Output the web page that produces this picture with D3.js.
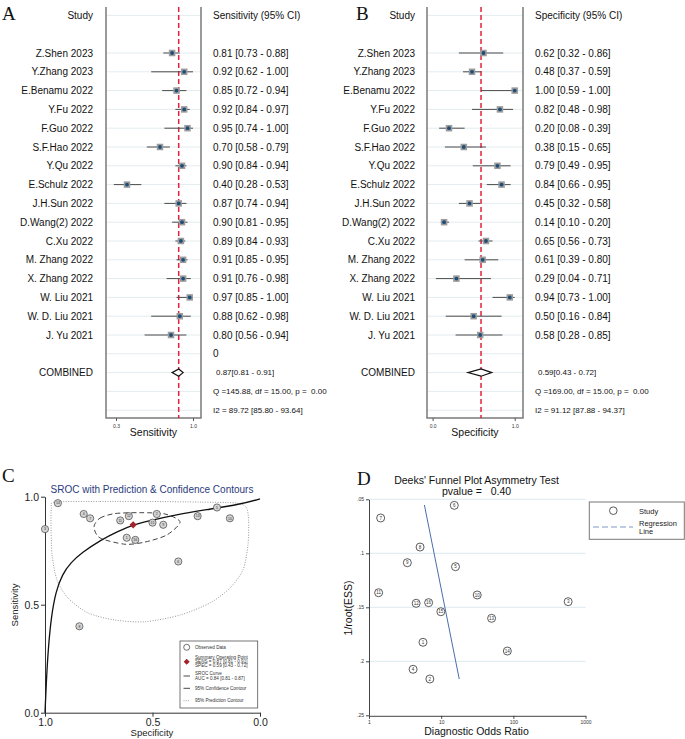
<!DOCTYPE html>
<html><head><meta charset="utf-8">
<script src="https://cdn.jsdelivr.net/npm/d3@7"></script>
<style>body{margin:0;background:#fff;} svg{display:block;font-family:"Liberation Sans",Arial,sans-serif;}</style>
</head><body>
<script>
// ---------------- DATA ----------------
const studies = ["Z.Shen 2023","Y.Zhang 2023","E.Benamu 2022","Y.Fu 2022","F.Guo 2022","S.F.Hao 2022","Y.Qu 2022","E.Schulz 2022","J.H.Sun 2022","D.Wang(2) 2022","C.Xu 2022","M. Zhang 2022","X. Zhang 2022","W. Liu 2021","W. D. Liu 2021","J. Yu 2021"];
const sens   = [0.81,0.92,0.85,0.92,0.95,0.70,0.90,0.40,0.87,0.90,0.89,0.91,0.91,0.97,0.88,0.80];
const sensLo = [0.73,0.62,0.72,0.84,0.74,0.58,0.84,0.28,0.74,0.81,0.84,0.85,0.76,0.85,0.62,0.56];
const sensHi = [0.88,1.00,0.94,0.97,1.00,0.79,0.94,0.53,0.94,0.95,0.93,0.95,0.98,1.00,0.98,0.94];
const spec   = [0.62,0.48,1.00,0.82,0.20,0.38,0.79,0.84,0.45,0.14,0.65,0.61,0.29,0.94,0.50,0.58];
const specLo = [0.32,0.37,0.59,0.48,0.08,0.15,0.49,0.66,0.32,0.10,0.56,0.39,0.04,0.73,0.16,0.28];
const specHi = [0.86,0.59,1.00,0.98,0.39,0.65,0.95,0.95,0.58,0.20,0.73,0.80,0.71,1.00,0.84,0.85];
const sensPooled = [0.87,0.81,0.91];
const specPooled = [0.59,0.43,0.72];
const sensStats = ["0.87[0.81 - 0.91]","Q =145.88, df = 15.00, p =\u00A0\u00A00.00","I2 = 89.72 [85.80 - 93.64]"];
const specStats = ["0.59[0.43 - 0.72]","Q =169.00, df = 15.00, p =\u00A0\u00A00.00","I2 = 91.12 [87.88 - 94.37]"];
const sensTicks = [0.3,1.0];
const specTicks = [0.0,1.0];

// SROC curve (specificity, sensitivity)
const srocSpec = [1.0,0.995,0.985,0.97,0.95,0.92,0.88,0.83,0.74,0.66,0.59,0.51,0.40,0.25,0.09,0.0];
const srocSens = [0.0,0.12,0.30,0.45,0.56,0.64,0.695,0.74,0.80,0.84,0.87,0.89,0.915,0.94,0.965,0.99];
// 95% confidence contour
const confSpec = [0.772,0.744,0.674,0.558,0.442,0.372,0.433,0.535,0.628,0.744];
const confSens = [0.860,0.901,0.922,0.926,0.920,0.883,0.823,0.790,0.780,0.809];
// 95% prediction contour
const predSpec = [0.953,0.744,0.512,0.279,0.116,0.065,0.053,0.056,0.079,0.140,0.233,0.372,0.535,0.674,0.800,0.893,0.944,0.967,0.972,0.970];
const predSens = [0.975,0.978,0.978,0.975,0.971,0.952,0.892,0.777,0.661,0.577,0.508,0.452,0.421,0.429,0.462,0.531,0.614,0.730,0.869,0.948];
const srocTicks = [0.0,0.5,1.0];

// Deeks funnel plot (study number, DOR, 1/root(ESS))
const deeksStudy = [1,2,3,4,5,6,7,8,9,10,11,12,13,14,15,16];
const deeksDOR   = [5.6,6.97,575,4.08,15.8,15.2,1.45,5.1,3.4,31.6,1.36,4.5,50,82.6,9.9,6.7];
const deeksESS   = [0.1824,0.2164,0.1448,0.2074,0.1124,0.0556,0.0673,0.0942,0.1087,0.1386,0.1365,0.1463,0.1602,0.1905,0.1541,0.1457];
const regDOR = [5.86,17.8];
const regESS = [0.0553,0.2164];
const deeksYTicks = [0.05,0.10,0.15,0.20,0.25];
const deeksYLabels = [".05",".1",".15",".2",".25"];
const deeksXTicks = [1,10,100,1000];

// ---------------- DRAW ----------------
const svg = d3.select("body").append("svg").attr("width",685).attr("height",739);
svg.append("rect").attr("width",685).attr("height",739).attr("fill","#fff");
const f2 = d3.format(".2f");

function panelLetter(t,x,y){
  svg.append("text").attr("x",x).attr("y",y).text(t)
    .attr("font-family","'Liberation Serif','Times New Roman',serif").attr("font-size",19).attr("fill","#111");
}

function forest(cfg){
  const g = svg.append("g");
  const x = d3.scaleLinear().domain(cfg.domain).range(cfg.range);
  const rowY = i => 53 + i*18.8;
  const top = 7, bottom = 418;
  const gridRows = [-2].concat(d3.range(0,20));
  g.selectAll("line.grid").data(gridRows).join("line")
    .attr("x1",cfg.boxL).attr("x2",cfg.boxR).attr("y1",rowY).attr("y2",rowY)
    .attr("stroke","#e3ecef").attr("stroke-width",1);
  g.append("path").attr("d",`M${cfg.boxL},${top}V${bottom}H${cfg.boxR}V${top}`)
    .attr("fill","none").attr("stroke","#7a7a7a").attr("stroke-width",1.5);
  const ax = g.append("g").attr("transform",`translate(0,${bottom})`)
    .call(d3.axisBottom(x).tickValues(cfg.ticks).tickFormat(d3.format(".1f")).tickSize(3).tickPadding(3));
  ax.select(".domain").remove();
  ax.selectAll("line").attr("stroke","#555");
  ax.selectAll("text").attr("font-size",5).attr("fill","#333").attr("font-family","'Liberation Sans',Arial");
  g.append("text").attr("x",(cfg.boxL+cfg.boxR)/2).attr("y",436).attr("text-anchor","middle")
    .attr("font-size",10.5).attr("fill","#111").text(cfg.axisTitle);
  g.append("line").attr("x1",x(cfg.pooled[0])).attr("x2",x(cfg.pooled[0])).attr("y1",top).attr("y2",bottom)
    .attr("stroke","#e3213c").attr("stroke-width",1.5).attr("stroke-dasharray","5,3");
  g.append("text").attr("x",cfg.labelR).attr("y",rowY(-2)).attr("dy","0.35em").attr("text-anchor","end")
    .attr("font-size",10).attr("fill","#111").text("Study");
  g.append("text").attr("x",cfg.valX).attr("y",rowY(-2)).attr("dy","0.35em")
    .attr("font-size",10).attr("fill","#111").text(cfg.header);
  const idx = d3.range(studies.length);
  g.selectAll("text.lab").data(idx).join("text").attr("x",cfg.labelR).attr("y",i=>rowY(i)).attr("dy","0.35em")
    .attr("text-anchor","end").attr("font-size",10).attr("fill","#111").text(i=>studies[i]);
  g.selectAll("text.val").data(idx).join("text").attr("x",cfg.valX).attr("y",i=>rowY(i)).attr("dy","0.35em")
    .attr("font-size",10).attr("fill","#111").text(i=>`${f2(cfg.v[i])} [${f2(cfg.lo[i])} - ${f2(cfg.hi[i])}]`);
  g.selectAll("line.ci").data(idx).join("line")
    .attr("x1",i=>x(cfg.lo[i])).attr("x2",i=>x(cfg.hi[i])).attr("y1",i=>rowY(i)).attr("y2",i=>rowY(i))
    .attr("stroke","#4a4a4a").attr("stroke-width",1);
  const s = 6.5;
  g.selectAll("rect.sq").data(idx).join("rect")
    .attr("x",i=>x(cfg.v[i])-s/2).attr("y",i=>rowY(i)-s/2).attr("width",s).attr("height",s)
    .attr("fill","#9c9c9c");
  g.selectAll("circle.pt").data(idx).join("circle")
    .attr("cx",i=>x(cfg.v[i])).attr("cy",i=>rowY(i)).attr("r",1.9).attr("fill","#1e4d78");
  if(cfg.zero){
    g.append("text").attr("x",cfg.valX).attr("y",rowY(16)).attr("dy","0.35em").attr("font-size",10).attr("fill","#111").text("0");
  }
  const cy = rowY(17), h = 3.6;
  g.append("text").attr("x",cfg.labelR).attr("y",cy).attr("dy","0.35em").attr("text-anchor","end")
    .attr("font-size",10).attr("fill","#111").text("COMBINED");
  g.append("path").attr("d",`M${x(cfg.pooled[1])},${cy}L${x(cfg.pooled[0])},${cy-h}L${x(cfg.pooled[2])},${cy}L${x(cfg.pooled[0])},${cy+h}Z`)
    .attr("fill","#fff").attr("stroke","#111").attr("stroke-width",1.2);
  g.append("text").attr("x",cfg.valX+3).attr("y",cy).attr("dy","0.35em").attr("font-size",8).attr("fill","#111").text(cfg.stats[0]);
  g.append("text").attr("x",cfg.valX).attr("y",rowY(18)).attr("dy","0.35em").attr("font-size",8).attr("fill","#111").text(cfg.stats[1]);
  g.append("text").attr("x",cfg.valX).attr("y",rowY(19)).attr("dy","0.35em").attr("font-size",8).attr("fill","#111").text(cfg.stats[2]);
}

forest({domain:[0.3,1.0],range:[116,193],boxL:106,boxR:201,labelR:93,valX:213,ticks:sensTicks,
  axisTitle:"Sensitivity",header:"Sensitivity (95% CI)",v:sens,lo:sensLo,hi:sensHi,pooled:sensPooled,stats:sensStats,zero:true});
forest({domain:[0.0,1.0],range:[432.6,514.7],boxL:427,boxR:523,labelR:415,valX:535,ticks:specTicks,
  axisTitle:"Specificity",header:"Specificity (95% CI)",v:spec,lo:specLo,hi:specHi,pooled:specPooled,stats:specStats,zero:false});
panelLetter("A",2,20);
panelLetter("B",356,20);

// ---------------- Panel C: SROC ----------------
(function(){
  const g = svg.append("g");
  const x = d3.scaleLinear().domain([1,0]).range([45,260]);
  const y = d3.scaleLinear().domain([0,1]).range([712.7,496.7]);
  g.append("text").attr("x",152).attr("y",489).attr("dy","0.35em").attr("text-anchor","middle")
    .attr("font-size",10).attr("fill","#2a3b7c").text("SROC with Prediction & Confidence Contours");
  const ya = g.append("g").attr("transform","translate(45,0)")
    .call(d3.axisLeft(y).tickValues(srocTicks).tickFormat(d3.format(".1f")).tickSize(4).tickPadding(2).tickSizeOuter(0));
  const xa = g.append("g").attr("transform","translate(0,712.7)")
    .call(d3.axisBottom(x).tickValues(srocTicks).tickFormat(d3.format(".1f")).tickSize(4).tickPadding(2).tickSizeOuter(0));
  [ya,xa].forEach(a=>{a.selectAll("path,line").attr("stroke","#333");
    a.selectAll("text").attr("font-size",10.5).attr("fill","#222").attr("font-family","'Liberation Sans',Arial");});
  g.append("text").attr("x",152).attr("y",733).attr("dy","0.35em").attr("text-anchor","middle")
    .attr("font-size",9.5).attr("fill","#222").text("Specificity");
  g.append("text").attr("transform","translate(15,605) rotate(-90)").attr("text-anchor","middle").attr("dy","0.35em")
    .attr("font-size",9.5).attr("fill","#222").text("Sensitivity");
  const cl = d3.line().curve(d3.curveCardinalClosed.tension(0.2));
  g.append("path").attr("d",cl(predSpec.map((s,i)=>[x(s),y(predSens[i])])))
    .attr("fill","none").attr("stroke","#9a9a9a").attr("stroke-width",1).attr("stroke-dasharray","1,1.5");
  g.append("path").attr("d",cl(confSpec.map((s,i)=>[x(s),y(confSens[i])])))
    .attr("fill","none").attr("stroke","#444").attr("stroke-width",1).attr("stroke-dasharray","5,3");
  g.append("path").attr("d",d3.line().curve(d3.curveBasis)(srocSpec.map((s,i)=>[x(s),y(srocSens[i])])))
    .attr("fill","none").attr("stroke","#111").attr("stroke-width",1.3);
  const idx = d3.range(spec.length);
  g.selectAll("circle.obs").data(idx).join("circle")
    .attr("cx",i=>x(spec[i])).attr("cy",i=>y(sens[i])).attr("r",3.6)
    .attr("fill","#d4d4d4").attr("stroke","#444").attr("stroke-width",0.7);
  g.selectAll("text.num").data(idx).join("text")
    .attr("x",i=>x(spec[i])).attr("y",i=>y(sens[i])).attr("dy","0.35em").attr("text-anchor","middle")
    .attr("font-size",3.5).attr("fill","#333").text(i=>i+1);
  const sx = x(specPooled[0]), sy = y(sensPooled[0]), d = 3.6;
  g.append("path").attr("d",`M${sx},${sy-d}L${sx+d},${sy}L${sx},${sy+d}L${sx-d},${sy}Z`).attr("fill","#a3242c");
  const lg = g.append("g");
  lg.append("rect").attr("x",180).attr("y",641).attr("width",77.7).attr("height",67)
    .attr("fill","#fff").attr("stroke","#555").attr("stroke-width",0.8);
  lg.append("circle").attr("cx",186.7).attr("cy",647.3).attr("r",3).attr("fill","#fff").attr("stroke","#333").attr("stroke-width",0.7);
  lg.append("path").attr("d","M186.7,658.7L189.7,661.7L186.7,664.7L183.7,661.7Z").attr("fill","#a3242c");
  lg.append("line").attr("x1",183.5).attr("x2",190).attr("y1",676).attr("y2",676).attr("stroke","#333").attr("stroke-width",0.9);
  lg.append("line").attr("x1",183.5).attr("x2",190).attr("y1",688.3).attr("y2",688.3).attr("stroke","#333").attr("stroke-width",0.9);
  lg.append("line").attr("x1",183.5).attr("x2",190).attr("y1",700.7).attr("y2",700.7).attr("stroke","#999").attr("stroke-width",0.9).attr("stroke-dasharray","1,1.2");
  const items = [["Observed Data",647.3],["Summary Operating Point",656.9],["SENS = 0.87 [0.81 - 0.91]",661.3],["SPEC = 0.59 [0.43 - 0.72]",665.7],
    ["SROC Curve",673.5],["AUC = 0.84 [0.81 - 0.87]",678.2],["95% Confidence Contour",688.3],["95% Prediction Contour",700.7]];
  lg.selectAll("text").data(items).join("text").attr("x",195).attr("y",d=>d[1]).attr("dy","0.35em")
    .attr("font-size",4.6).attr("fill","#333").text(d=>d[0]);
})();
panelLetter("C",2,482);

// ---------------- Panel D: Deeks ----------------
(function(){
  const g = svg.append("g");
  const x = d3.scaleLog().domain([1,1000]).range([369,585.5]);
  const y = d3.scaleLinear().domain([0.05,0.25]).range([499.3,715.3]);
  g.append("text").attr("x",476.5).attr("y",480.7).attr("dy","0.35em").attr("text-anchor","middle")
    .attr("font-size",10.5).attr("fill","#111").text("Deeks' Funnel Plot Asymmetry Test");
  g.append("text").attr("x",476.5).attr("y",491.5).attr("dy","0.35em").attr("text-anchor","middle")
    .attr("font-size",10.5).attr("fill","#111").text("pvalue =\u00A0\u00A0 0.40");
  g.selectAll("line.grid").data(deeksYTicks.slice(0,4)).join("line")
    .attr("x1",369).attr("x2",585.5).attr("y1",d=>y(d)).attr("y2",d=>y(d)).attr("stroke","#dde9ef").attr("stroke-width",1);
  const ya = g.append("g").attr("transform","translate(369,0)")
    .call(d3.axisLeft(y).tickValues(deeksYTicks).tickFormat((d,i)=>deeksYLabels[i]).tickSize(3).tickPadding(2).tickSizeOuter(0));
  const xa = g.append("g").attr("transform","translate(0,715.8)")
    .call(d3.axisBottom(x).tickValues(deeksXTicks).tickFormat(d3.format("d")).tickSize(3).tickPadding(2).tickSizeOuter(0));
  [ya,xa].forEach(a=>{a.selectAll("path,line").attr("stroke","#444");
    a.selectAll("text").attr("font-size",5).attr("fill","#333").attr("font-family","'Liberation Sans',Arial");});
  g.append("text").attr("x",476.5).attr("y",731).attr("dy","0.35em").attr("text-anchor","middle")
    .attr("font-size",10.5).attr("fill","#111").text("Diagnostic Odds Ratio");
  g.append("text").attr("transform","translate(348,608) rotate(-90)").attr("text-anchor","middle").attr("dy","0.35em")
    .attr("font-size",10.5).attr("fill","#111").text("1/root(ESS)");
  g.append("line").attr("x1",x(regDOR[0])).attr("y1",y(regESS[0])).attr("x2",x(regDOR[1])).attr("y2",y(regESS[1]))
    .attr("stroke","#4a70ab").attr("stroke-width",1);
  const idx = d3.range(deeksStudy.length);
  g.selectAll("circle.pt").data(idx).join("circle")
    .attr("cx",i=>x(deeksDOR[i])).attr("cy",i=>y(deeksESS[i])).attr("r",4)
    .attr("fill","#fff").attr("stroke","#333").attr("stroke-width",0.8);
  g.selectAll("text.num").data(idx).join("text")
    .attr("x",i=>x(deeksDOR[i])).attr("y",i=>y(deeksESS[i])).attr("dy","0.35em").attr("text-anchor","middle")
    .attr("font-size",4.5).attr("fill","#333").text(i=>deeksStudy[i]);
  g.append("rect").attr("x",589.3).attr("y",502).attr("width",95).attr("height",37.3)
    .attr("fill","#fff").attr("stroke","#777").attr("stroke-width",1);
  g.append("circle").attr("cx",613.3).attr("cy",510.7).attr("r",3.8).attr("fill","#fff").attr("stroke","#333").attr("stroke-width",0.8);
  g.append("text").attr("x",639).attr("y",511).attr("dy","0.35em").attr("font-size",7.5).attr("fill","#222").text("Study");
  g.append("line").attr("x1",593).attr("x2",633).attr("y1",527).attr("y2",527)
    .attr("stroke","#a9bcd9").attr("stroke-width",1.5).attr("stroke-dasharray","6,3");
  g.append("text").attr("x",639).attr("y",523.3).attr("dy","0.35em").attr("font-size",7.5).attr("fill","#222").text("Regression");
  g.append("text").attr("x",639).attr("y",530.9).attr("dy","0.35em").attr("font-size",7.5).attr("fill","#222").text("Line");
})();
panelLetter("D",357,485);
</script>
</body></html>
